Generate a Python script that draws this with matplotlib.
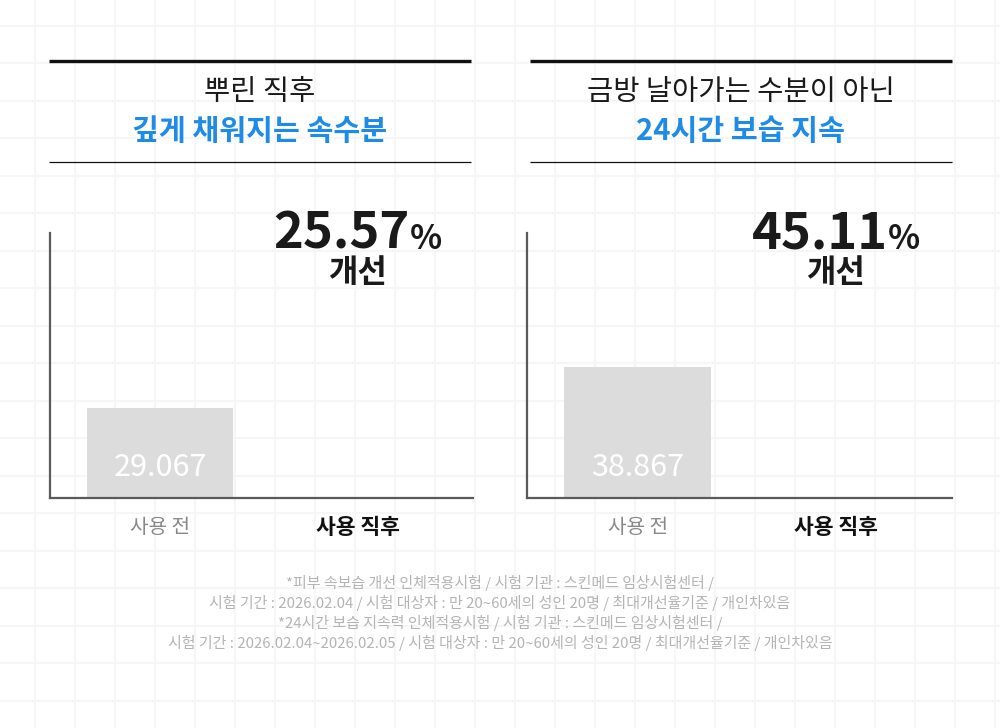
import matplotlib
matplotlib.use("Agg")
import matplotlib.pyplot as plt
import numpy as np
from matplotlib.offsetbox import TextArea, HPacker, AnnotationBbox

plt.rcParams['font.family'] = ['Noto Sans CJK KR', 'DejaVu Sans']

# data
categories = ["사용 전", "사용 직후"]
before_values = [29.067, 38.867]
improvements = ["25.57", "45.11"]
title_lines = ["뿌린 직후", "금방 날아가는 수분이 아닌"]
title_highlights = ["깊게 채워지는 속수분", "24시간 보습 지속"]
y_max = [85.6, 78.6]
footnotes = [
    "*피부 속보습 개선 인체적용시험 / 시험 기관 : 스킨메드 임상시험센터 /",
    "시험 기간 : 2026.02.04 / 시험 대상자 : 만 20~60세의 성인 20명 / 최대개선율기준 / 개인차있음",
    "*24시간 보습 지속력 인체적용시험 / 시험 기관 : 스킨메드 임상시험센터 /",
    "시험 기간 : 2026.02.04~2026.02.05 / 시험 대상자 : 만 20~60세의 성인 20명 / 최대개선율기준 / 개인차있음",
]

BLUE = "#1e8be8"
BAR = "#dcdcdc"
AXIS = "#5a5a5a"
INK = "#1a1a1a"

fig = plt.figure(figsize=(10, 7.28), dpi=100)

# background layer in pixel coords
bg = fig.add_axes([0, 0, 1, 1], zorder=0)
bg.set_xlim(0, 1000)
bg.set_ylim(728, 0)
bg.axis("off")
for gx in np.arange(35, 1000, 40):
    bg.axvline(gx, color="#f6f6f6", lw=1.5, zorder=0)
for gy in np.arange(25.5, 728, 37.5):
    bg.axhline(gy, color="#f6f6f6", lw=1.5, zorder=0)

panel_x = [(49, 471), (530, 952)]
for i, (x0, x1) in enumerate(panel_x):
    xc = (x0 + x1) / 2
    bg.plot([x0, x1], [61, 61], color="#111111", lw=2.4, solid_capstyle="butt")
    bg.plot([x0, x1], [162, 162], color="#111111", lw=0.9, solid_capstyle="butt")
    bg.text(xc, 92, title_lines[i], ha="center", va="center", fontsize=20.5,
            color=INK, fontweight="medium")
    bg.text(xc, 131, title_highlights[i], ha="center", va="center", fontsize=21,
            color=BLUE, fontweight="bold")

for k, line in enumerate(footnotes):
    bg.text(500, 583 + k * 20, line, ha="center", va="center", fontsize=10.8,
            color="#b4b4b4")

# chart panels
axes_rects = [[0.05, 0.3159, 0.423, 0.364], [0.527, 0.3159, 0.425, 0.364]]
x = np.arange(len(categories))
for i, rect in enumerate(axes_rects):
    ax = fig.add_axes(rect, zorder=2)
    ax.patch.set_alpha(0)
    ax.bar(x[0], before_values[i], width=0.744, color=BAR, zorder=2)
    ax.annotate(f"{before_values[i]:.3f}", (x[0], 0), xytext=(0, 22),
                textcoords="offset points", ha="center", va="center",
                fontsize=22, color="white", zorder=3)
    ax.set_xlim(-0.557, 1.585)
    ax.set_ylim(0, y_max[i])
    for s in ["top", "right"]:
        ax.spines[s].set_visible(False)
    for s in ["left", "bottom"]:
        ax.spines[s].set_color(AXIS)
        ax.spines[s].set_linewidth(1.6)
    ax.set_yticks([])
    ax.set_xticks(x)
    ax.set_xticklabels(categories, fontsize=14.5)
    ax.tick_params(axis="x", length=0, pad=14)
    lbls = ax.get_xticklabels()
    lbls[0].set_color("#888888")
    lbls[1].set_color("#111111")
    lbls[1].set_fontweight("bold")
    lbls[1].set_fontsize(15.5)

    num = TextArea(improvements[i], textprops=dict(fontsize=36.5, fontweight="heavy",
                                                   color=INK))
    pct = TextArea("%", textprops=dict(fontsize=24, fontweight="heavy", color=INK))
    pack = HPacker(children=[num, pct], align="baseline", pad=0, sep=0)
    ab = AnnotationBbox(pack, (x[1], 0.90), xycoords=("data", "axes fraction"),
                        box_alignment=(0.5, 0.0), frameon=False,
                        annotation_clip=False)
    ax.add_artist(ab)
    ax.text(x[1], 0.849, "개선", transform=ax.get_xaxis_transform(), ha="center",
            va="center", fontsize=23, fontweight="heavy", color=INK)

fig.savefig("out.png", dpi=100, facecolor="white")
